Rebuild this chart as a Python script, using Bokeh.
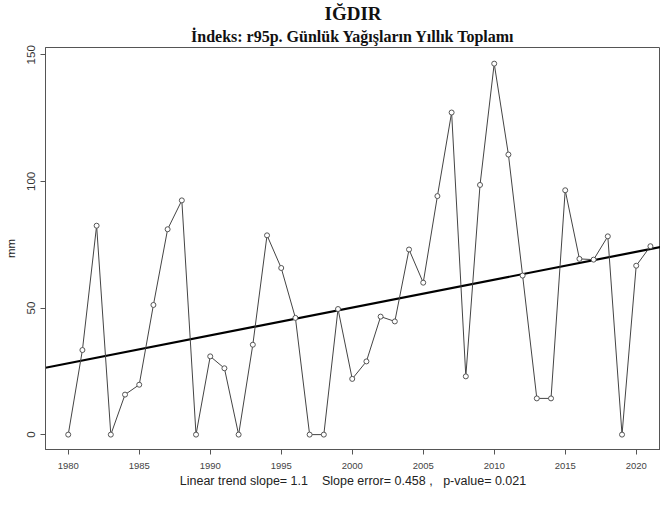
import numpy as np
from bokeh.plotting import figure
from bokeh.models import Title, FixedTicker, Range1d
from bokeh.embed import file_html
from bokeh.resources import INLINE

# Data
years = list(range(1980, 2022))
r95p = [0.0, 33.4, 82.5, 0.0, 15.8, 19.7, 51.2, 81.1, 92.5, 0.0,
        30.9, 26.2, 0.0, 35.5, 78.7, 65.8, 46.1, 0.0, 0.0, 49.6,
        22.0, 28.9, 46.6, 44.7, 73.1, 60.0, 94.2, 127.2, 23.0, 98.6,
        146.5, 110.6, 62.8, 14.3, 14.3, 96.5, 69.4, 69.1, 78.3, 0.0,
        66.7, 74.4]
x_ticks = [1980, 1985, 1990, 1995, 2000, 2005, 2010, 2015, 2020]
y_ticks = [0, 50, 100, 150]
title_main = "IĞDIR"
title_sub = "İndeks: r95p. Günlük Yağışların Yıllık Toplamı"
footer = "Linear trend slope= 1.1\u00a0\u00a0\u00a0\u00a0Slope error= 0.458 ,\u00a0\u00a0\u00a0p-value= 0.021"

slope, intercept = np.polyfit(years, r95p, 1)

p = figure(frame_width=615, frame_height=402, output_backend="svg", toolbar_location=None,
           x_range=Range1d(1978.40, 2021.71), y_range=Range1d(-5.88, 152.88),
           min_border_left=45, min_border_right=0, min_border_top=44, min_border_bottom=36)

p.title.text = title_main
p.title.align = "center"
p.title.text_font = "Liberation Serif"
p.title.text_font_style = "bold"
p.title.text_font_size = "19px"
p.title.text_color = "#111111"
p.title.standoff = 0
p.add_layout(Title(text=title_sub, align="center", text_font="Liberation Serif",
                   text_font_style="bold", text_font_size="16px", text_color="#111111",
                   standoff=5), "above")

p.xgrid.visible = False
p.ygrid.visible = False
p.outline_line_color = "#555555"
p.background_fill_color = "white"
p.border_fill_color = "white"

# trend line across the whole frame
tx = [p.x_range.start, p.x_range.end]
ty = [intercept + slope * v for v in tx]
p.line(tx, ty, line_color="black", line_width=2.2)

p.line(years, r95p, line_color="#444444", line_width=1)
p.scatter(years, r95p, size=5, fill_color="white", line_color="#555555", line_width=1)

ax = p.xaxis[0]
ax.ticker = FixedTicker(ticks=x_ticks)
ax.axis_line_color = "#555555"
ax.major_tick_line_color = "#555555"
ax.major_tick_out = 5
ax.major_tick_in = 0
ax.minor_tick_out = 0
ax.minor_tick_in = 0
ax.major_label_text_font = "Liberation Sans"
ax.major_label_text_font_size = "9.5px"
ax.major_label_text_color = "#444444"
ax.major_label_standoff = 8
ax.axis_label = footer
ax.axis_label_text_font = "Liberation Sans"
ax.axis_label_text_font_style = "normal"
ax.axis_label_text_font_size = "12.5px"
ax.axis_label_text_color = "#222222"
ax.axis_label_standoff = 2

ay = p.yaxis[0]
ay.ticker = FixedTicker(ticks=y_ticks)
ay.axis_line_color = "#555555"
ay.major_tick_line_color = "#555555"
ay.major_tick_out = 5
ay.major_tick_in = 0
ay.minor_tick_out = 0
ay.minor_tick_in = 0
ay.major_label_orientation = "vertical"
ay.major_label_text_font = "Liberation Sans"
ay.major_label_text_font_size = "11.5px"
ay.major_label_text_color = "#333333"
ay.major_label_standoff = 5
ay.axis_label = "mm"
ay.axis_label_text_font = "Liberation Sans"
ay.axis_label_text_font_style = "normal"
ay.axis_label_text_font_size = "11.5px"
ay.axis_label_text_color = "#222222"
ay.axis_label_standoff = 8

open("out.html", "w").write(file_html(p, INLINE))
